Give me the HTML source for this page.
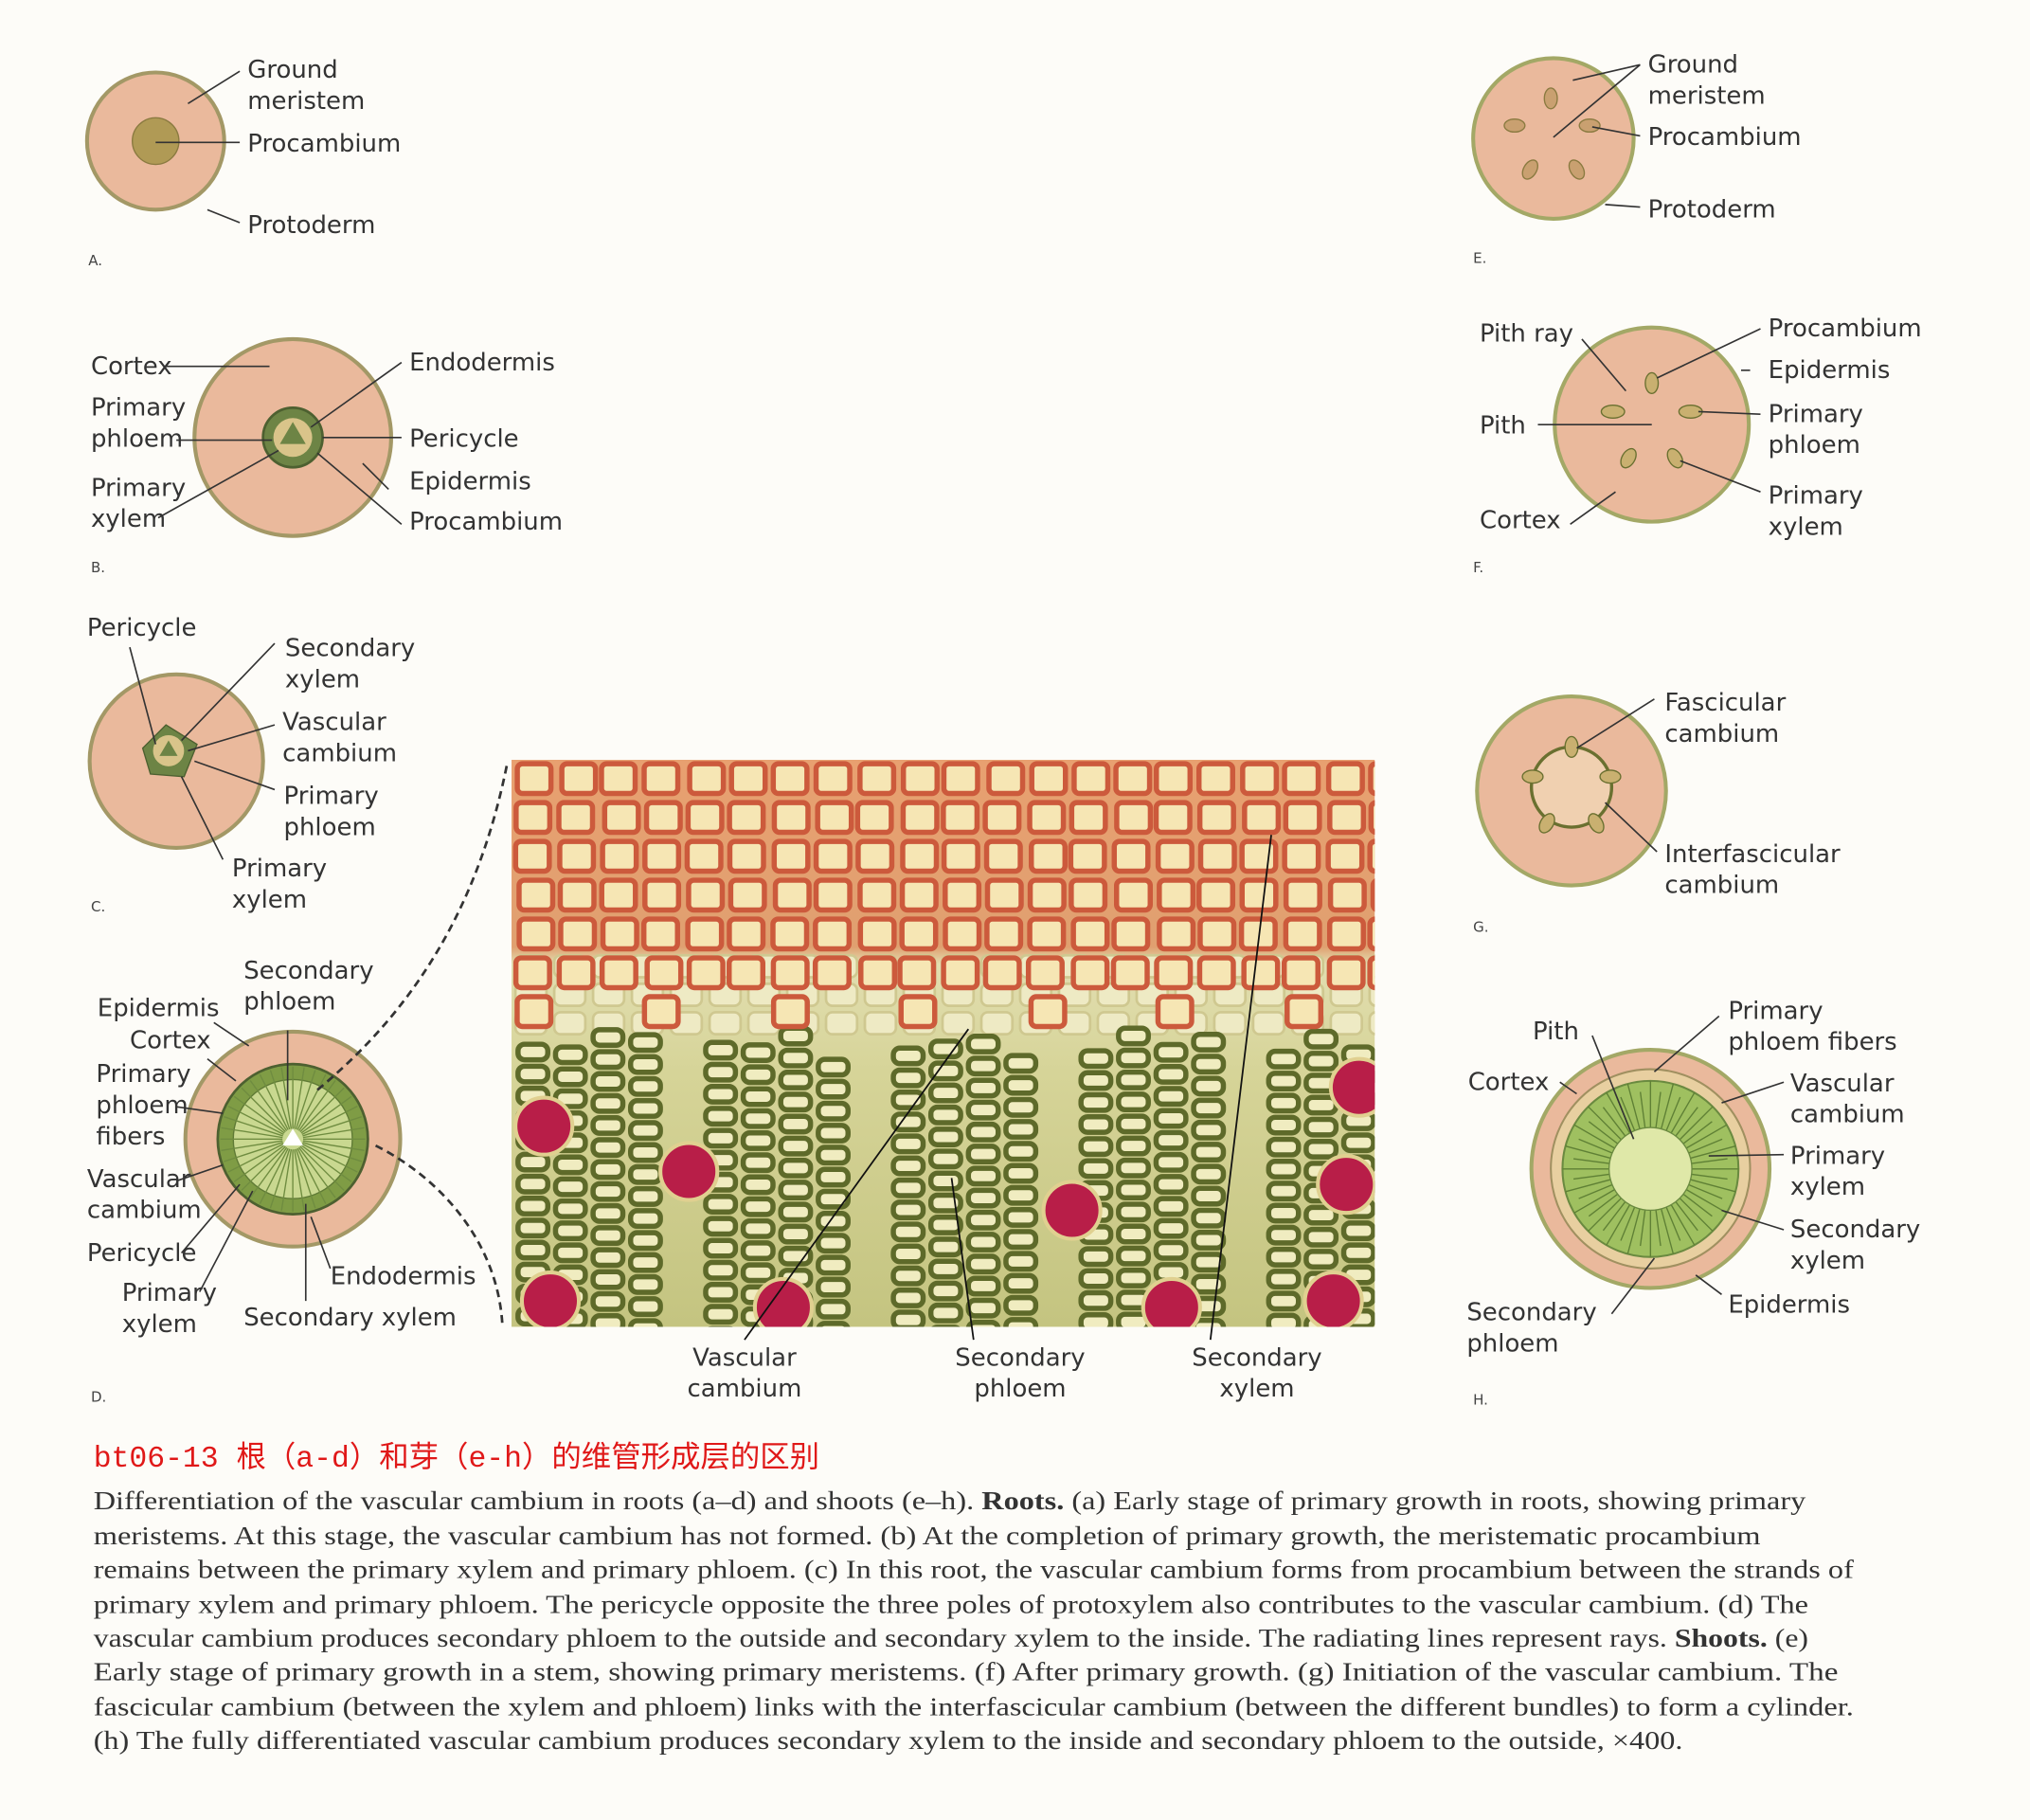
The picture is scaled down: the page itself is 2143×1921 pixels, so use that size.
<!DOCTYPE html>
<html><head><meta charset="utf-8"><style>
html,body{margin:0;padding:0;background:#fdfcf8;}
svg{display:block}
.l{font-family:"DejaVu Sans","Liberation Sans",sans-serif;font-size:19px;fill:#333}
.s{font-family:"DejaVu Sans",sans-serif;font-size:11px;fill:#444}
.ln{stroke:#333;stroke-width:1.2;fill:none}
.c{fill:#eab99c;stroke:#a39866;stroke-width:3}
.cap{font-family:"Liberation Serif",serif;font-size:20px;fill:#333}
</style></head><body>
<svg id="s" width="2143" height="1921" viewBox="0 0 1568 1406" xmlns="http://www.w3.org/2000/svg">
<rect width="1568" height="1406" fill="#fdfcf8"/>
<!-- A -->
<circle class="c" cx="120" cy="109" r="53"/>
<circle cx="120" cy="109" r="18" fill="#b09a55" stroke="#8a7a40"/>
<path class="ln" d="M145 80L185 55M120 110H185M160 162L185 172"/>
<text class="l" x="191" y="60">Ground</text><text class="l" x="191" y="84">meristem</text>
<text class="l" x="191" y="117">Procambium</text><text class="l" x="191" y="180">Protoderm</text>
<text class="s" x="68" y="205">A.</text>
<!-- B -->
<circle class="c" cx="226" cy="338" r="76"/>
<circle cx="226" cy="338" r="23" fill="#6d8445" stroke="#4d6030" stroke-width="2"/>
<circle cx="226" cy="338" r="15" fill="#d9c48a"/>
<path d="M226 326l10 17h-20z" fill="#6d8445"/>
<path class="ln" d="M128 283H208M136 340H210M122 400L215 348M310 280L240 330M310 338H249M300 378L280 358M310 405L245 350"/>
<text class="l" x="70" y="289">Cortex</text><text class="l" x="70" y="321">Primary</text><text class="l" x="70" y="345">phloem</text>
<text class="l" x="70" y="383">Primary</text><text class="l" x="70" y="407">xylem</text>
<text class="l" x="316" y="286">Endodermis</text><text class="l" x="316" y="345">Pericycle</text>
<text class="l" x="316" y="378">Epidermis</text><text class="l" x="316" y="409">Procambium</text>
<text class="s" x="70" y="442">B.</text>
<!-- C -->
<circle class="c" cx="136" cy="588" r="67"/>
<path d="M110 578L128 560L152 575L142 600L116 598Z" fill="#6d8445" stroke="#4d6030"/>
<circle cx="130" cy="580" r="12" fill="#d9c48a"/>
<path d="M130 572l7 12h-14z" fill="#6d8445"/>
<path class="ln" d="M100 500L120 575M212 497L140 572M212 560L145 580M212 610L150 588M172 664L140 600"/>
<text class="l" x="67" y="491">Pericycle</text>
<text class="l" x="220" y="507">Secondary</text><text class="l" x="220" y="531">xylem</text>
<text class="l" x="218" y="564">Vascular</text><text class="l" x="218" y="588">cambium</text>
<text class="l" x="219" y="621">Primary</text><text class="l" x="219" y="645">phloem</text>
<text class="l" x="179" y="677">Primary</text><text class="l" x="179" y="701">xylem</text>
<text class="s" x="70" y="704">C.</text>
<!-- D -->
<circle class="c" cx="226" cy="880" r="83"/>
<circle cx="226" cy="880" r="58" fill="#7f9c45" stroke="#4d6030" stroke-width="2"/>
<circle cx="226" cy="880" r="46" fill="#c9d890" stroke="#5f7a35"/>
<g id="rays" stroke="#6f8c40" stroke-width="1"></g>
<path d="M226 872l8 13h-16z" fill="#fff"/>
<path d="M245 842C320 780 370 700 392 588" stroke="#333" stroke-width="2" stroke-dasharray="6 4" fill="none"/>
<path d="M290 885C340 910 385 960 388 1025" stroke="#333" stroke-width="2" stroke-dasharray="6 4" fill="none"/>
<path class="ln" d="M222 796V850M165 790L192 808M160 818L182 835M136 855L172 860M137 912L172 900M140 968L185 915M154 998L195 920M236 1005V930M255 980L240 940"/>
<text class="l" x="188" y="756">Secondary</text><text class="l" x="188" y="780">phloem</text>
<text class="l" x="75" y="785">Epidermis</text><text class="l" x="100" y="810">Cortex</text>
<text class="l" x="74" y="836">Primary</text><text class="l" x="74" y="860">phloem</text><text class="l" x="74" y="884">fibers</text>
<text class="l" x="67" y="917">Vascular</text><text class="l" x="67" y="941">cambium</text>
<text class="l" x="67" y="974">Pericycle</text>
<text class="l" x="94" y="1005">Primary</text><text class="l" x="94" y="1029">xylem</text>
<text class="l" x="255" y="992">Endodermis</text><text class="l" x="188" y="1024">Secondary xylem</text>
<text class="s" x="70" y="1083">D.</text>
<!-- Photo -->
<defs><clipPath id="pc"><rect x="395" y="587" width="667" height="438"/></clipPath>
<linearGradient id="pg" x1="0" y1="0" x2="0" y2="1"><stop offset="0" stop-color="#e8a070"/><stop offset="0.33" stop-color="#e0a070"/><stop offset="0.36" stop-color="#e2deb0"/><stop offset="0.55" stop-color="#d6d498"/><stop offset="1" stop-color="#c4c480"/></linearGradient></defs>
<g clip-path="url(#pc)"><rect x="395" y="587" width="667" height="438" fill="url(#pg)"/><g id="cells"></g></g>
<path d="M748 795L575 1035M735 910L752 1035M982 645L935 1035" stroke="#111" stroke-width="1.3"/>
<text class="l" x="575" y="1055" text-anchor="middle">Vascular</text><text class="l" x="575" y="1079" text-anchor="middle">cambium</text>
<text class="l" x="788" y="1055" text-anchor="middle">Secondary</text><text class="l" x="788" y="1079" text-anchor="middle">phloem</text>
<text class="l" x="971" y="1055" text-anchor="middle">Secondary</text><text class="l" x="971" y="1079" text-anchor="middle">xylem</text>
<!-- E -->
<circle cx="1200" cy="107" r="62" fill="#eab99c" stroke="#a3a866" stroke-width="3"/>
<g fill="#c9a070" stroke="#8a7a40"><ellipse cx="1198" cy="76" rx="5" ry="8"/><ellipse cx="1170" cy="97" rx="8" ry="5"/><ellipse cx="1228" cy="97" rx="8" ry="5"/><ellipse cx="1182" cy="131" rx="5" ry="8" transform="rotate(30 1182 131)"/><ellipse cx="1218" cy="131" rx="5" ry="8" transform="rotate(-30 1218 131)"/></g>
<path class="ln" d="M1267 50L1215 62M1267 50L1200 106M1230 98L1267 105M1240 158L1267 160"/>
<text class="l" x="1273" y="56">Ground</text><text class="l" x="1273" y="80">meristem</text>
<text class="l" x="1273" y="112">Procambium</text><text class="l" x="1273" y="168">Protoderm</text>
<text class="s" x="1138" y="203">E.</text>
<!-- F -->
<circle cx="1276" cy="328" r="75" fill="#eab99c" stroke="#a3a866" stroke-width="3"/>
<g fill="#c9b070" stroke="#6a7030"><ellipse cx="1276" cy="296" rx="5" ry="8"/><ellipse cx="1246" cy="318" rx="9" ry="5"/><ellipse cx="1306" cy="318" rx="9" ry="5"/><ellipse cx="1258" cy="354" rx="5" ry="8" transform="rotate(30 1258 354)"/><ellipse cx="1294" cy="354" rx="5" ry="8" transform="rotate(-30 1294 354)"/></g>
<path class="ln" d="M1222 262L1256 302M1188 328H1276M1213 405L1248 380M1360 254L1280 292M1345 286H1352M1360 320L1312 318M1360 380L1298 356"/>
<text class="l" x="1143" y="264">Pith ray</text><text class="l" x="1143" y="335">Pith</text><text class="l" x="1143" y="408">Cortex</text>
<text class="l" x="1366" y="260">Procambium</text><text class="l" x="1366" y="292">Epidermis</text>
<text class="l" x="1366" y="326">Primary</text><text class="l" x="1366" y="350">phloem</text>
<text class="l" x="1366" y="389">Primary</text><text class="l" x="1366" y="413">xylem</text>
<text class="s" x="1138" y="442">F.</text>
<!-- G -->
<circle cx="1214" cy="611" r="73" fill="#eab99c" stroke="#a3a866" stroke-width="3"/>
<circle cx="1214" cy="608" r="31" fill="#f0d0b0" stroke="#6a7030" stroke-width="2.5"/>
<g fill="#c9b070" stroke="#6a7030"><ellipse cx="1214" cy="577" rx="5" ry="8"/><ellipse cx="1184" cy="600" rx="8" ry="5"/><ellipse cx="1244" cy="600" rx="8" ry="5"/><ellipse cx="1195" cy="636" rx="5" ry="8" transform="rotate(30 1195 636)"/><ellipse cx="1233" cy="636" rx="5" ry="8" transform="rotate(-30 1233 636)"/></g>
<path class="ln" d="M1278 540L1218 578M1280 658L1240 620"/>
<text class="l" x="1286" y="549">Fascicular</text><text class="l" x="1286" y="573">cambium</text>
<text class="l" x="1286" y="666">Interfascicular</text><text class="l" x="1286" y="690">cambium</text>
<text class="s" x="1138" y="720">G.</text>
<!-- H -->
<circle cx="1275" cy="903" r="92" fill="#eab99c" stroke="#a3a866" stroke-width="3"/>
<circle cx="1275" cy="903" r="77" fill="#e8cfa0" stroke="#a09060" stroke-width="1.5"/>
<circle cx="1275" cy="903" r="68" fill="#9fc060" stroke="#6a8a40" stroke-width="1.5"/>
<g id="hrays" stroke="#5f8035" stroke-width="1"></g>
<circle cx="1275" cy="903" r="32" fill="#dfe8a8" stroke="#6a8a40"/>
<path class="ln" d="M1230 800L1262 880M1205 836L1218 845M1328 785L1278 828M1378 836L1330 852M1378 892L1320 893M1378 950L1330 935M1330 1000L1310 985M1245 1015L1278 972"/>
<text class="l" x="1184" y="803">Pith</text><text class="l" x="1134" y="842">Cortex</text>
<text class="l" x="1335" y="787">Primary</text><text class="l" x="1335" y="811">phloem fibers</text>
<text class="l" x="1383" y="843">Vascular</text><text class="l" x="1383" y="867">cambium</text>
<text class="l" x="1383" y="899">Primary</text><text class="l" x="1383" y="923">xylem</text>
<text class="l" x="1383" y="956">Secondary</text><text class="l" x="1383" y="980">xylem</text>
<text class="l" x="1335" y="1014">Epidermis</text>
<text class="l" x="1133" y="1020">Secondary</text><text class="l" x="1133" y="1044">phloem</text>
<text class="s" x="1138" y="1085">H.</text>
<!-- Caption -->
<text x="72" y="1133" style="font-family:'Liberation Mono','Noto Sans CJK SC',monospace;font-size:23px;fill:#e01818">bt06-13  根（a-d）和芽（e-h）的维管形成层的区别</text>
<text class="cap" x="72" y="1166" textLength="1323" lengthAdjust="spacingAndGlyphs">Differentiation of the vascular cambium in roots (a–d) and shoots (e–h). <tspan font-weight="bold">Roots.</tspan> (a) Early stage of primary growth in roots, showing primary</text>
<text class="cap" x="72" y="1193" textLength="1288" lengthAdjust="spacingAndGlyphs">meristems. At this stage, the vascular cambium has not formed. (b) At the completion of primary growth, the meristematic procambium</text>
<text class="cap" x="72" y="1219" textLength="1360" lengthAdjust="spacingAndGlyphs">remains between the primary xylem and primary phloem. (c) In this root, the vascular cambium forms from procambium between the strands of</text>
<text class="cap" x="72" y="1246" textLength="1325" lengthAdjust="spacingAndGlyphs">primary xylem and primary phloem. The pericycle opposite the three poles of protoxylem also contributes to the vascular cambium. (d) The</text>
<text class="cap" x="72" y="1272" textLength="1325" lengthAdjust="spacingAndGlyphs">vascular cambium produces secondary phloem to the outside and secondary xylem to the inside. The radiating lines represent rays. <tspan font-weight="bold">Shoots.</tspan> (e)</text>
<text class="cap" x="72" y="1298" textLength="1348" lengthAdjust="spacingAndGlyphs">Early stage of primary growth in a stem, showing primary meristems. (f) After primary growth. (g) Initiation of the vascular cambium. The</text>
<text class="cap" x="72" y="1325" textLength="1360" lengthAdjust="spacingAndGlyphs">fascicular cambium (between the xylem and phloem) links with the interfascicular cambium (between the different bundles) to form a cylinder.</text>
<text class="cap" x="72" y="1351" textLength="1228" lengthAdjust="spacingAndGlyphs">(h) The fully differentiated vascular cambium produces secondary xylem to the inside and secondary phloem to the outside, ×400.</text>
</svg>
<script>
var NS="http://www.w3.org/2000/svg";
function el(p,t,a){var e=document.createElementNS(NS,t);for(var k in a)e.setAttribute(k,a[k]);p.appendChild(e);return e;}
var r=document.getElementById("rays");
for(var i=0;i<40;i++){var a=i*Math.PI/20;el(r,"line",{x1:226+8*Math.cos(a),y1:880+8*Math.sin(a),x2:226+56*Math.cos(a),y2:880+56*Math.sin(a)});}
var h=document.getElementById("hrays");
for(var i=0;i<48;i++){var a=i*Math.PI/24;el(h,"line",{x1:1275+32*Math.cos(a),y1:903+32*Math.sin(a),x2:1275+(i%2?60:68)*Math.cos(a),y2:903+(i%2?60:68)*Math.sin(a)});}
var c=document.getElementById("cells");var seed=7;function rnd(){seed=(seed*9301+49297)%233280;return seed/233280;}
// transition pale cells
for(var x=395;x<1062;x+=30){for(var y=735;y<800;y+=22){el(c,"rect",{x:x+3,y:y+3,width:24,height:17,rx:5,fill:"#eeeac4",stroke:"#cfc890","stroke-width":2});}}
// green xylem columns
for(var x=398;x<1062;x+=29){ if(Math.floor((x-398)/29)%5==4) continue; var y0=790+rnd()*30; for(var y=y0;y<1025;y+=17){el(c,"rect",{x:x+2,y:y+2,width:23,height:12,rx:5,fill:"#f0ecc0",stroke:"#5e6a2a","stroke-width":4});}}
// top cells
for(var x=395;x<1062;x+=33){var ye=740+(Math.floor(x/33)%3)*15;for(var y=587;y<ye;y+=30){el(c,"rect",{x:x+3+rnd()*3,y:y+3,width:26,height:23,rx:4,fill:"#f6e6b4",stroke:"#cc5a3c","stroke-width":4});}}
var blobs=[[420,870],[532,905],[828,935],[1040,915],[1050,840],[425,1005],[605,1010],[905,1010],[1030,1005]];
blobs.forEach(function(b){el(c,"circle",{cx:b[0],cy:b[1],r:22,fill:"#b81e48",stroke:"#e0d090","stroke-width":3});});
</script>
</body></html>
